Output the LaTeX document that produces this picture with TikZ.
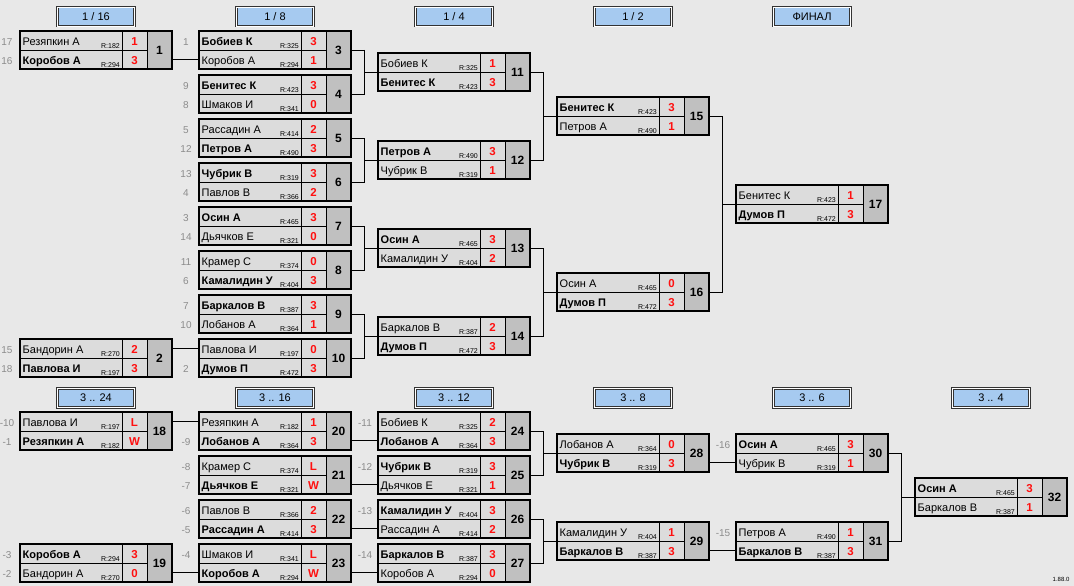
\documentclass[tikz,border=0pt]{standalone}
\usepackage{fontspec}
\setmainfont{Liberation Sans}
\usetikzlibrary{calc}

\definecolor{bgcol}{HTML}{E8E8E8}
\definecolor{cellcol}{HTML}{DCDCDC}
\definecolor{numcol}{HTML}{C0C0C0}
\definecolor{stagecol}{HTML}{A6CAF0}
\definecolor{seedcol}{HTML}{8C8C8C}
\definecolor{scorecol}{HTML}{FF1010}

\tikzset{
  cell/.style={draw=black, line width=0.6pt, fill=cellcol, inner sep=0pt, outer sep=0pt, anchor=north west},
  namecell/.style={cell, minimum width=102pt, minimum height=19pt},
  scorecell/.style={cell, minimum width=25pt, minimum height=19pt},
  numcell/.style={cell, fill=numcol, minimum width=25pt, minimum height=38pt,
    font=\fontsize{12}{12}\selectfont\bfseries},
  frame/.style={draw=black, line width=2pt},
  pname/.style={anchor=base west, inner sep=0pt, font=\fontsize{11}{12}\selectfont},
  prate/.style={anchor=base east, inner sep=0pt, font=\fontsize{7}{7}\selectfont},
  pscore/.style={anchor=base, inner sep=0pt, text=scorecol, font=\fontsize{11.5}{12}\selectfont\bfseries},
  seed/.style={anchor=base, inner sep=0pt, text=seedcol, font=\fontsize{10}{12}\selectfont},
  stage/.style={draw=black!80, line width=0.7pt, double=white, double distance=0.9pt,
    fill=stagecol, minimum width=77pt, minimum height=19pt, inner sep=0pt,
    font=\fontsize{11}{12}\selectfont},
  link/.style={draw=black, line width=0.8pt}
}

% one match: number, left, top
\newcommand{\game}[3]{%
  \node[namecell] (g#1a) at (#2,#3) {};
  \node[namecell] (g#1b) at (#2,#3+19) {};
  \node[scorecell] (g#1aS) at (#2+102,#3) {};
  \node[scorecell] (g#1bS) at (#2+102,#3+19) {};
  \node[numcell] (g#1) at (#2+127,#3) {#1};
  \draw[frame] (g#1a.north west) rectangle (g#1.south east);
}
% one player: match, row, seed, name, rating, score
\newcommand{\plr}[6]{%
  \node[seed] (g#1#2D) at ($(g#1#2.south west)+(-13,-4.5)$) {#3};
  \node[pname] (g#1#2N) at ($(g#1#2.south west)+(2.5,-4.5)$) {#4};
  \node[prate] (g#1#2R) at ($(g#1#2.south east)+(-2,-1.8)$) {R:#5};
  \node[pscore] (g#1#2P) at ($(g#1#2S.south)+(0,-4.5)$) {#6};
}
\newcommand{\win}[1]{\textbf{#1}}
% winner goes straight on to one row of the next match
\newcommand{\feed}[2]{\draw[link] (#2.west -| g#1.east) -- (#2.west);}
% two matches meet in the next one
\newcommand{\pairlink}[3]{\draw[link] (g#1.east) -- ++(13,0) coordinate (j#3) |- (g#2.east) (j#3) |- (g#3a.south west);}

\begin{document}
\begin{tikzpicture}[x=1pt,y=-1pt]
\path[fill=bgcol, use as bounding box] (0,0) rectangle (1074,586);

% Stage headers
\node[stage] (h1) at (96,16.5) {1 / 16};
\node[stage] (h2) at (275,16.5) {1 / 8};
\node[stage] (h3) at (454,16.5) {1 / 4};
\node[stage] (h4) at (633,16.5) {1 / 2};
\node[stage] (h5) at (812,16.5) {ФИНАЛ};
\node[stage] (h6) at (96,398) {3 .. 24};
\node[stage] (h7) at (275,398) {3 .. 16};
\node[stage] (h8) at (454,398) {3 .. 12};
\node[stage] (h9) at (633,398) {3 .. 8};
\node[stage] (h10) at (812,398) {3 .. 6};
\node[stage] (h11) at (991,398) {3 .. 4};

% Main bracket
\game{1}{20}{31}
\plr{1}{a}{17}{Резяпкин А}{182}{1}
\plr{1}{b}{16}{\win{Коробов А}}{294}{3}
\game{2}{20}{339}
\plr{2}{a}{15}{Бандорин А}{270}{2}
\plr{2}{b}{18}{\win{Павлова И}}{197}{3}

\game{3}{199}{31}
\plr{3}{a}{1}{\win{Бобиев К}}{325}{3}
\plr{3}{b}{}{Коробов А}{294}{1}
\game{4}{199}{75}
\plr{4}{a}{9}{\win{Бенитес К}}{423}{3}
\plr{4}{b}{8}{Шмаков И}{341}{0}
\game{5}{199}{119}
\plr{5}{a}{5}{Рассадин А}{414}{2}
\plr{5}{b}{12}{\win{Петров А}}{490}{3}
\game{6}{199}{163}
\plr{6}{a}{13}{\win{Чубрик В}}{319}{3}
\plr{6}{b}{4}{Павлов В}{366}{2}
\game{7}{199}{207}
\plr{7}{a}{3}{\win{Осин А}}{465}{3}
\plr{7}{b}{14}{Дьячков Е}{321}{0}
\game{8}{199}{251}
\plr{8}{a}{11}{Крамер С}{374}{0}
\plr{8}{b}{6}{\win{Камалидин У}}{404}{3}
\game{9}{199}{295}
\plr{9}{a}{7}{\win{Баркалов В}}{387}{3}
\plr{9}{b}{10}{Лобанов А}{364}{1}
\game{10}{199}{339}
\plr{10}{a}{}{Павлова И}{197}{0}
\plr{10}{b}{2}{\win{Думов П}}{472}{3}

\game{11}{378}{53}
\plr{11}{a}{}{Бобиев К}{325}{1}
\plr{11}{b}{}{\win{Бенитес К}}{423}{3}
\game{12}{378}{141}
\plr{12}{a}{}{\win{Петров А}}{490}{3}
\plr{12}{b}{}{Чубрик В}{319}{1}
\game{13}{378}{229}
\plr{13}{a}{}{\win{Осин А}}{465}{3}
\plr{13}{b}{}{Камалидин У}{404}{2}
\game{14}{378}{317}
\plr{14}{a}{}{Баркалов В}{387}{2}
\plr{14}{b}{}{\win{Думов П}}{472}{3}

\game{15}{557}{97}
\plr{15}{a}{}{\win{Бенитес К}}{423}{3}
\plr{15}{b}{}{Петров А}{490}{1}
\game{16}{557}{273}
\plr{16}{a}{}{Осин А}{465}{0}
\plr{16}{b}{}{\win{Думов П}}{472}{3}

\game{17}{736}{185}
\plr{17}{a}{}{Бенитес К}{423}{1}
\plr{17}{b}{}{\win{Думов П}}{472}{3}

% Places 3..24
\game{18}{20}{412}
\plr{18}{a}{-10}{Павлова И}{197}{L}
\plr{18}{b}{-1}{\win{Резяпкин А}}{182}{W}
\game{19}{20}{544}
\plr{19}{a}{-3}{\win{Коробов А}}{294}{3}
\plr{19}{b}{-2}{Бандорин А}{270}{0}

\game{20}{199}{412}
\plr{20}{a}{}{Резяпкин А}{182}{1}
\plr{20}{b}{-9}{\win{Лобанов А}}{364}{3}
\game{21}{199}{456}
\plr{21}{a}{-8}{Крамер С}{374}{L}
\plr{21}{b}{-7}{\win{Дьячков Е}}{321}{W}
\game{22}{199}{500}
\plr{22}{a}{-6}{Павлов В}{366}{2}
\plr{22}{b}{-5}{\win{Рассадин А}}{414}{3}
\game{23}{199}{544}
\plr{23}{a}{-4}{Шмаков И}{341}{L}
\plr{23}{b}{}{\win{Коробов А}}{294}{W}

\game{24}{378}{412}
\plr{24}{a}{-11}{Бобиев К}{325}{2}
\plr{24}{b}{}{\win{Лобанов А}}{364}{3}
\game{25}{378}{456}
\plr{25}{a}{-12}{\win{Чубрик В}}{319}{3}
\plr{25}{b}{}{Дьячков Е}{321}{1}
\game{26}{378}{500}
\plr{26}{a}{-13}{\win{Камалидин У}}{404}{3}
\plr{26}{b}{}{Рассадин А}{414}{2}
\game{27}{378}{544}
\plr{27}{a}{-14}{\win{Баркалов В}}{387}{3}
\plr{27}{b}{}{Коробов А}{294}{0}

\game{28}{557}{434}
\plr{28}{a}{}{Лобанов А}{364}{0}
\plr{28}{b}{}{\win{Чубрик В}}{319}{3}
\game{29}{557}{522}
\plr{29}{a}{}{Камалидин У}{404}{1}
\plr{29}{b}{}{\win{Баркалов В}}{387}{3}

\game{30}{736}{434}
\plr{30}{a}{-16}{\win{Осин А}}{465}{3}
\plr{30}{b}{}{Чубрик В}{319}{1}
\game{31}{736}{522}
\plr{31}{a}{-15}{Петров А}{490}{1}
\plr{31}{b}{}{\win{Баркалов В}}{387}{3}

\game{32}{915}{478}
\plr{32}{a}{}{\win{Осин А}}{465}{3}
\plr{32}{b}{}{Баркалов В}{387}{1}

% Connectors
\feed{1}{g3b}
\feed{2}{g10a}
\pairlink{3}{4}{11}
\pairlink{5}{6}{12}
\pairlink{7}{8}{13}
\pairlink{9}{10}{14}
\pairlink{11}{12}{15}
\pairlink{13}{14}{16}
\pairlink{15}{16}{17}

\feed{18}{g20a}
\feed{19}{g23b}
\feed{20}{g24b}
\feed{21}{g25b}
\feed{22}{g26b}
\feed{23}{g27b}
\pairlink{24}{25}{28}
\pairlink{26}{27}{29}
\feed{28}{g30b}
\feed{29}{g31b}
\pairlink{30}{31}{32}

\node[font=\fontsize{6}{6}\selectfont] (ver) at (1061,579) {1.88.0};
\end{tikzpicture}
\end{document}
